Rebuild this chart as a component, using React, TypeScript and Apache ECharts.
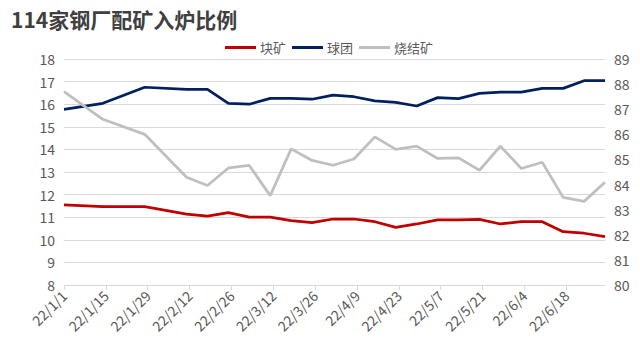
import React, { useEffect, useRef } from "react";
import * as echarts from "echarts";

const dates = [
  "2022-01-01", "2022-01-14", "2022-01-28", "2022-02-11", "2022-02-18", "2022-02-25",
  "2022-03-04", "2022-03-11", "2022-03-18", "2022-03-25", "2022-04-01", "2022-04-08",
  "2022-04-15", "2022-04-22", "2022-04-29", "2022-05-06", "2022-05-13", "2022-05-20",
  "2022-05-27", "2022-06-03", "2022-06-10", "2022-06-17", "2022-06-24", "2022-07-01",
];

const lumpOre = [
  11.54, 11.47, 11.47, 11.14, 11.05, 11.2, 11.0, 11.0, 10.85, 10.76, 10.92, 10.92,
  10.8, 10.55, 10.7, 10.88, 10.88, 10.9, 10.7, 10.8, 10.8, 10.36, 10.29, 10.14,
];

const pellet = [
  15.77, 16.04, 16.75, 16.66, 16.66, 16.04, 16.0, 16.26, 16.26, 16.22, 16.4, 16.33,
  16.15, 16.08, 15.92, 16.29, 16.25, 16.48, 16.53, 16.53, 16.7, 16.7, 17.04, 17.04,
];

const sinter = [
  87.7, 86.6, 86.0, 84.29, 83.96, 84.66, 84.76, 83.56, 85.42, 84.96, 84.77, 85.02,
  85.9, 85.4, 85.53, 85.04, 85.06, 84.57, 85.53, 84.64, 84.89, 83.49, 83.33, 84.09,
];

const seriesNames = ["块矿", "球团", "烧结矿"];
const colors = ["#C00000", "#002060", "#BFBFBF"];

const startDate = "2022-01-01";
const endDate = "2022-07-01";
const tickDays = 14;

const DAY = 86400000;
const toMs = (s: string) => {
  const [y, m, d] = s.split("-").map(Number);
  return Date.UTC(y, m - 1, d);
};
const dayOffset = (s: string) => Math.round((toMs(s) - toMs(startDate)) / DAY);
const fmtDay = (v: number) => {
  const dt = new Date(toMs(startDate) + v * DAY);
  return `${String(dt.getUTCFullYear()).slice(2)}/${dt.getUTCMonth() + 1}/${dt.getUTCDate()}`;
};

const FONT = "'Noto Sans CJK SC', 'Noto Sans', sans-serif";

export default function App() {
  const ref = useRef<HTMLDivElement>(null);
  useEffect(() => {
    if (!ref.current) return;
    const chart = echarts.init(ref.current, undefined, { renderer: "svg" });
    const mk = (vals: number[]) => dates.map((d, i) => [dayOffset(d), vals[i]]);
    chart.setOption({
      animation: false,
      backgroundColor: "#ffffff",
      textStyle: { fontFamily: FONT },
      title: {
        text: "114家钢厂配矿入炉比例",
        left: 6,
        top: 3,
        textStyle: { fontSize: 21, fontWeight: "bold", color: "#404040", fontFamily: FONT },
      },
      legend: {
        data: seriesNames,
        left: 220,
        top: 36,
        icon: "rect",
        itemWidth: 31,
        itemHeight: 3,
        itemGap: 6,
        textStyle: { fontSize: 13, color: "#595959", fontFamily: FONT, padding: [0, 0, 0, -1] },
      },
      grid: { left: 64, right: 35, top: 59, bottom: 66, containLabel: false },
      xAxis: {
        type: "value",
        min: 0,
        max: dayOffset(endDate),
        interval: tickDays,
        splitLine: { show: false },
        axisLine: { show: true, lineStyle: { color: "#D9D9D9", width: 1 } },
        axisTick: { show: true, length: 5, lineStyle: { color: "#D9D9D9" } },
        axisLabel: {
          rotate: 45,
          fontSize: 14,
          color: "#595959",
          margin: 8,
          fontFamily: FONT,
          showMaxLabel: false,
          formatter: (v: number) => (v % tickDays === 0 ? fmtDay(v) : ""),
        },
      },
      yAxis: [
        {
          type: "value",
          min: 8,
          max: 18,
          interval: 1,
          axisLine: { show: false },
          axisTick: { show: false },
          splitLine: { lineStyle: { color: "#D9D9D9", width: 1 } },
          axisLabel: { fontSize: 14, color: "#595959", margin: 9, fontFamily: FONT },
        },
        {
          type: "value",
          min: 80,
          max: 89,
          interval: 1,
          position: "right",
          axisLine: { show: false },
          axisTick: { show: false },
          splitLine: { show: false },
          axisLabel: { fontSize: 14, color: "#595959", margin: 9, fontFamily: FONT },
        },
      ],
      series: [
        {
          name: seriesNames[0],
          type: "line",
          data: mk(lumpOre),
          symbol: "none",
          color: colors[0],
          lineStyle: { width: 2.75, color: colors[0] },
        },
        {
          name: seriesNames[1],
          type: "line",
          data: mk(pellet),
          symbol: "none",
          color: colors[1],
          lineStyle: { width: 2.75, color: colors[1] },
        },
        {
          name: seriesNames[2],
          type: "line",
          yAxisIndex: 1,
          data: mk(sinter),
          symbol: "none",
          color: colors[2],
          lineStyle: { width: 2.75, color: colors[2] },
        },
      ],
    });
    return () => chart.dispose();
  }, []);
  return (
    <div
      ref={ref}
      style={{ position: "fixed", left: 0, top: 0, width: 640, height: 351 }}
    />
  );
}
